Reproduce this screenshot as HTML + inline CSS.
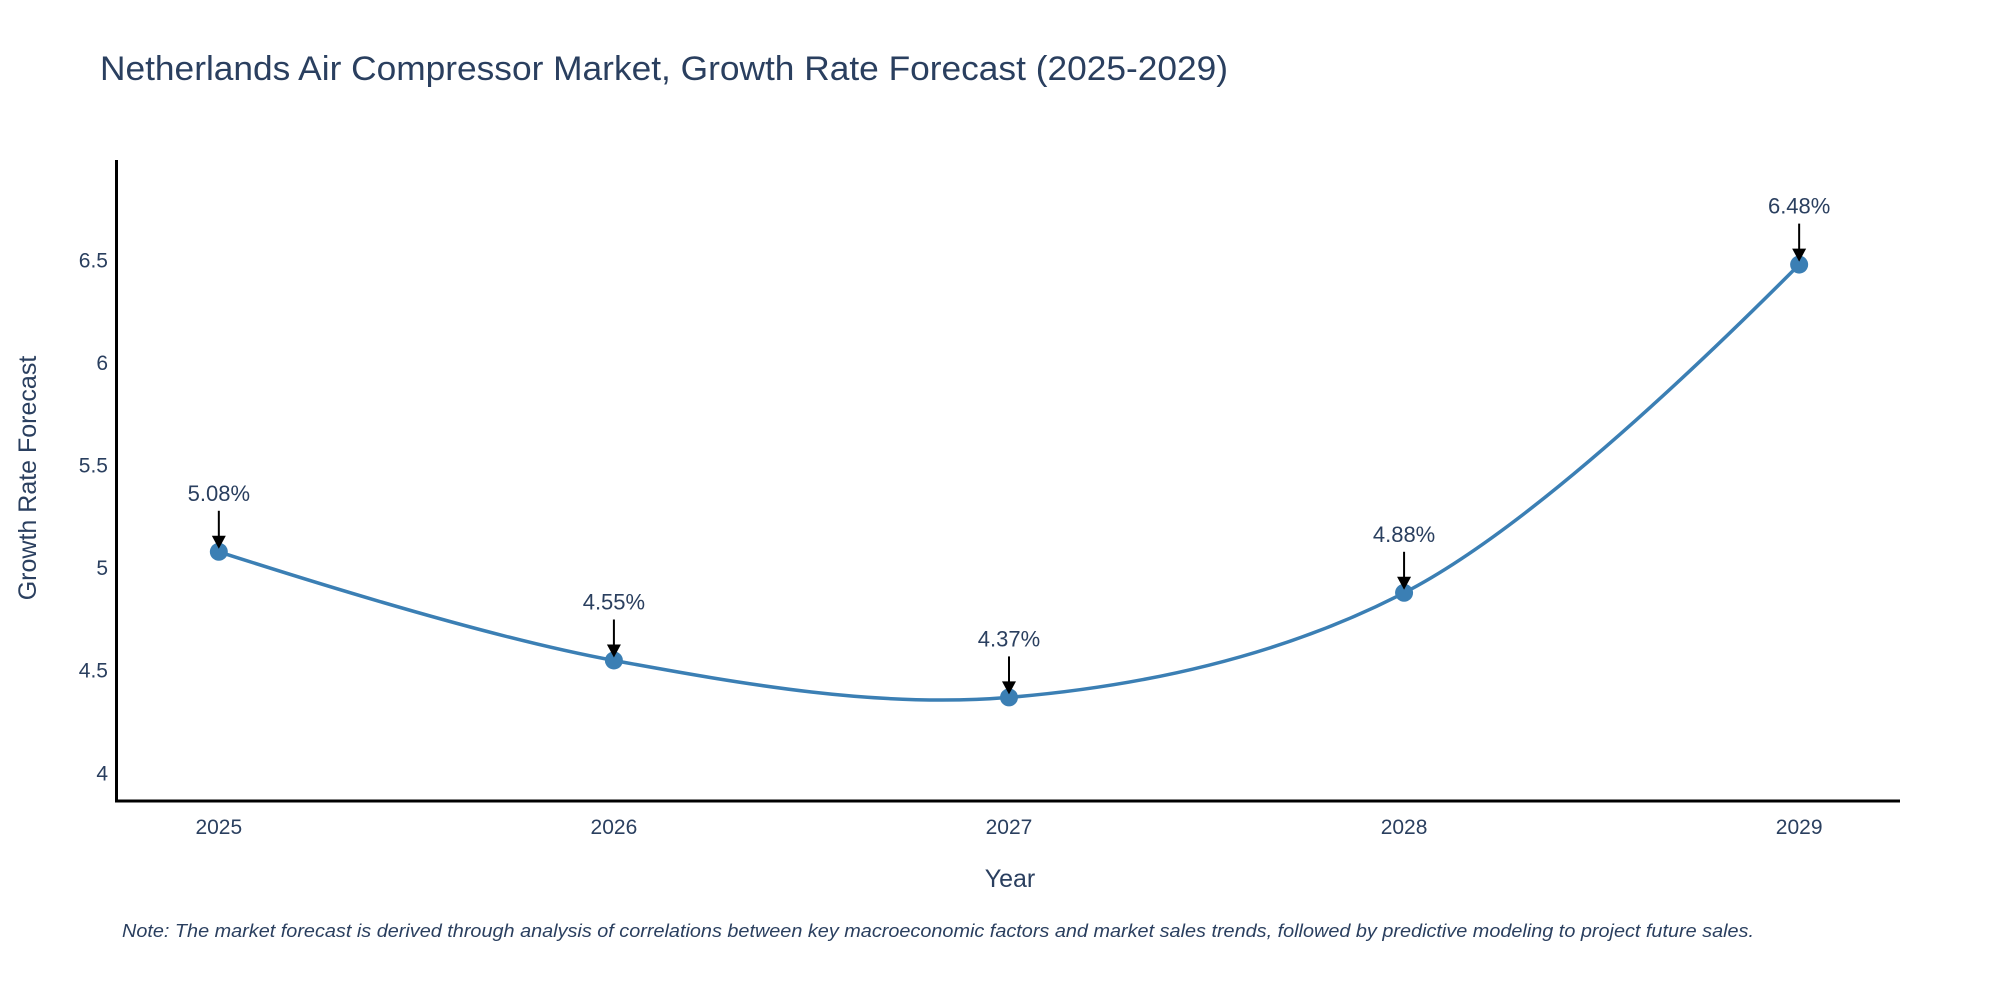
<!DOCTYPE html>
<html><head><meta charset="utf-8"><style>
body{margin:0;background:#fff}
svg text{font-family:"Liberation Sans","DejaVu Sans",sans-serif;fill:#2a3f5f}
</style></head><body>
<svg id="chart" width="2000" height="1000" xmlns="http://www.w3.org/2000/svg">
<rect width="2000" height="1000" fill="#fff"/>
<text x="100" y="80" font-size="34" textLength="1128" lengthAdjust="spacingAndGlyphs">Netherlands Air Compressor Market, Growth Rate Forecast (2025-2029)</text>
<g id="yticks"></g>
<g id="xticks"></g>
<line x1="116.5" y1="160" x2="116.5" y2="801" stroke="#000" stroke-width="3"/>
<line x1="115" y1="801" x2="1900" y2="801" stroke="#000" stroke-width="3"/>
<path id="line" fill="none" stroke="#3b7fb4" stroke-width="3.5"/>
<g id="points"></g>
<g id="annots"></g>
<text x="1010" y="887" font-size="25" text-anchor="middle">Year</text>
<text transform="translate(36,478) rotate(-90)" font-size="25" text-anchor="middle">Growth Rate Forecast</text>
<text x="122" y="937" font-size="18" font-style="italic" textLength="1632" lengthAdjust="spacingAndGlyphs">Note: The market forecast is derived through analysis of correlations between key macroeconomic factors and market sales trends, followed by predictive modeling to project future sales.</text>
</svg>
<script>
const years = [2025, 2026, 2027, 2028, 2029];
const values = [5.08, 4.55, 4.37, 4.88, 6.48];
const labels = ["5.08%", "4.55%", "4.37%", "4.88%", "6.48%"];
const yTicks = [4, 4.5, 5, 5.5, 6, 6.5];
const yTickLabels = ["4", "4.5", "5", "5.5", "6", "6.5"];

const NS = "http://www.w3.org/2000/svg";
const X0 = 116.5, X1 = 1899.5, XMIN = 2024.741, XMAX = 2029.254;
const Y0 = 801, Y1 = 160, YMIN = 3.865, YMAX = 6.99;
function sx(v){return X0 + (v - XMIN) / (XMAX - XMIN) * (X1 - X0);}
function sy(v){return Y0 - (v - YMIN) / (YMAX - YMIN) * (Y0 - Y1);}
function mk(tag, attrs, parent){const e=document.createElementNS(NS,tag);for(const k in attrs)e.setAttribute(k,attrs[k]);parent.appendChild(e);return e;}

const yt = document.getElementById('yticks');
yTicks.forEach((t,i)=>{
  const e = mk('text',{x:108,y:sy(t)+7,'font-size':21,'text-anchor':'end'},yt);
  
  
  e.textContent = yTickLabels[i];
});
const xt = document.getElementById('xticks');
years.forEach(y=>{
  const e = mk('text',{x:sx(y),y:834,'font-size':21,'text-anchor':'middle'},xt);
  
  
  e.textContent = String(y);
});

const pts = years.map((y,i)=>[sx(y), sy(values[i])]);
function tangent(prev, cur, next){
  const d1x=prev[0]-cur[0], d1y=prev[1]-cur[1], d2x=next[0]-cur[0], d2y=next[1]-cur[1];
  const d1a=Math.pow(d1x*d1x+d1y*d1y,0.25), d2a=Math.pow(d2x*d2x+d2y*d2y,0.25);
  const numx=(d2a*d2a*d1x-d1a*d1a*d2x), numy=(d2a*d2a*d1y-d1a*d1a*d2y);
  const den1=3*d2a*(d1a+d2a), den2=3*d1a*(d1a+d2a);
  return [[cur[0]+numx/den1, cur[1]+numy/den1],[cur[0]-numx/den2, cur[1]-numy/den2]];
}
const tans=[];
for(let i=1;i<pts.length-1;i++) tans.push(tangent(pts[i-1],pts[i],pts[i+1]));
let d='M'+pts[0]+'Q'+tans[0][0]+' '+pts[1];
for(let i=2;i<pts.length-1;i++) d+='C'+tans[i-2][1]+' '+tans[i-1][0]+' '+pts[i];
d+='Q'+tans[pts.length-3][1]+' '+pts[pts.length-1];
document.getElementById('line').setAttribute('d', d);

const pg = document.getElementById('points');
const ag = document.getElementById('annots');
pts.forEach((p,i)=>{
  const c = mk('circle',{cx:p[0],cy:p[1],r:9,fill:'#3b7fb4'},pg);
  
  
  const l = mk('line',{x1:p[0],y1:p[1]-41,x2:p[0],y2:p[1]-14,stroke:'#000','stroke-width':2},ag);
  
  
  const h = mk('polygon',{points:(p[0]-7)+','+(p[1]-16)+' '+(p[0]+7)+','+(p[1]-16)+' '+p[0]+','+(p[1]-3),fill:'#000'},ag);
  
  
  const t = mk('text',{x:p[0],y:p[1]-51,'font-size':22,'text-anchor':'middle'},ag);
  
  
  t.textContent = labels[i];
});
</script>
</body></html>
